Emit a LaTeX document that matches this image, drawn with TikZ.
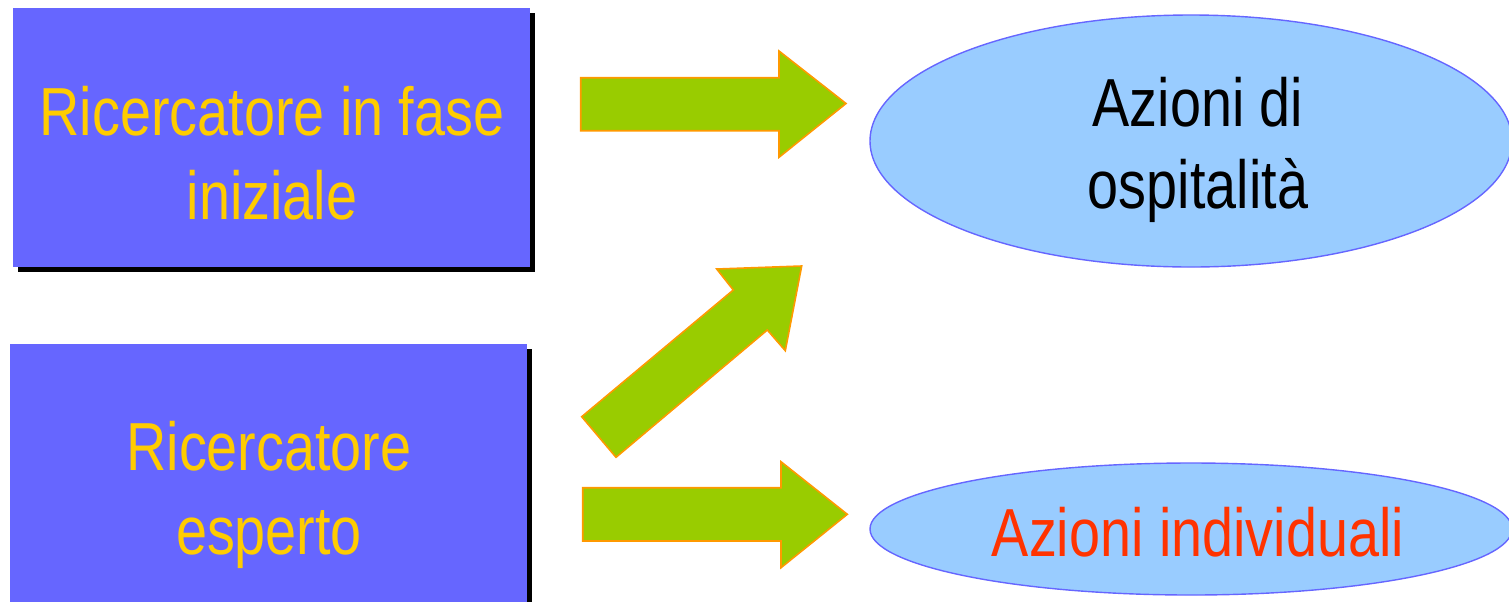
\documentclass[tikz,border=0pt]{standalone}
\usepackage{fontspec}
\newfontfamily\narrowfont{Liberation Sans}[FakeStretch=0.82]
\usetikzlibrary{shapes.geometric,shadows}
\definecolor{boxblue}{HTML}{6666FF}
\definecolor{boxtext}{HTML}{FFCC00}
\definecolor{arrowgreen}{HTML}{99CC00}
\definecolor{arroworange}{HTML}{FF9900}
\definecolor{ellfill}{HTML}{99CCFF}
\definecolor{redtext}{HTML}{FF3300}
\begin{document}
\begin{tikzpicture}[x=0.5pt,y=-0.5pt,
  box/.style={rectangle, fill=boxblue, inner sep=0pt,
    drop shadow={shadow xshift=2.5pt, shadow yshift=-2.5pt, fill=black, opacity=1}},
  ell/.style={ellipse, fill=ellfill, draw=boxblue, line width=0.7pt, inner sep=0pt},
  lbl/.style={inner sep=0pt, anchor=base, font=\narrowfont\fontsize{34}{42}\selectfont},
  blockarrow/.style={fill=arrowgreen, draw=arroworange, line width=0.8pt, line join=miter}]
\useasboundingbox (0,0) rectangle (1509,601);
\clip (0,0) rectangle (1509,601);
% boxes
\node[box, minimum width=258.5pt, minimum height=129.3pt] (b1) at (271.5,137.3) {};
\node[box, minimum width=258.5pt, minimum height=130pt] (b2) at (268.5,474) {};
\node[lbl, text=boxtext] (b1a) at (272,135) {Ricercatore in fase};
\node[lbl, text=boxtext] (b1b) at (272,219) {iniziale};
\node[lbl, text=boxtext] (b2a) at (269,470.7) {Ricercatore};
\node[lbl, text=boxtext] (b2b) at (269,554) {esperto};
% ellipses
\node[ell, minimum width=321pt, minimum height=126pt] (e1) at (1191,141) {};
\node[ell, minimum width=321pt, minimum height=66pt] (e2) at (1191,529) {};
\node[lbl, text=black] (e1a) at (1198,126) {Azioni di};
\node[lbl, text=black] (e1b) at (1198,208) {ospitalità};
\node[lbl, text=redtext] (e2a) at (1198,556.7) {Azioni individuali};
% block arrows
\draw[blockarrow] (580.7,77.7) -- (779,77.7) -- (779,51) -- (846,103.5) -- (779,157.3) -- (779,130.7) -- (580.7,130.7) -- cycle;
\draw[blockarrow] (582.7,487.7) -- (781,487.7) -- (781,461.7) -- (847.3,514.3) -- (781,567.7) -- (781,541) -- (582.7,541) -- cycle;
\draw[blockarrow] (581.7,416.7) -- (733.3,290) -- (716.7,269) -- (801.7,266) -- (785.3,350.7) -- (767.3,330) -- (616,457.3) -- cycle;
\end{tikzpicture}
\end{document}
